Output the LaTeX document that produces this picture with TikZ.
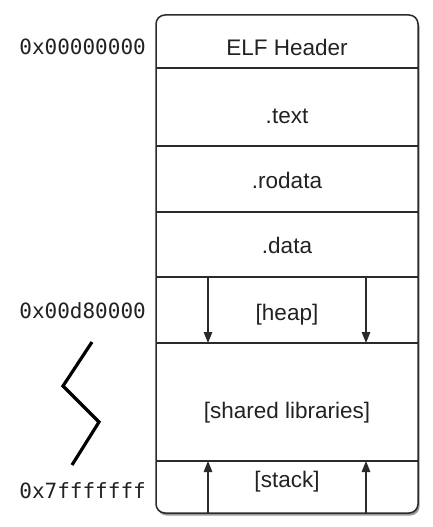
\documentclass[tikz,border=0pt]{standalone}
\usepackage{fontspec}
\setmainfont{Liberation Sans}
\newfontfamily\hexfont{DejaVu Sans Mono}
\usetikzlibrary{arrows.meta,shadows}
\definecolor{txt}{HTML}{222222}
\definecolor{edge}{HTML}{2a2a2a}
\tikzset{
  seg/.style={anchor=base, text=txt, font=\fontsize{22.5}{26}\selectfont, inner sep=0pt},
  addr/.style={anchor=base east, text=txt, font=\hexfont\fontsize{21}{24}\selectfont, inner sep=0pt},
  divider/.style={draw=edge, line width=1.4pt},
  growarrow/.style={draw=edge, line width=1.4pt, -{Triangle[length=11pt,width=8.5pt]}},
  memframe/.style={draw=edge, line width=1.5pt, rounded corners=9pt, fill=white,
    drop shadow={shadow xshift=1.5pt, shadow yshift=-2.5pt, opacity=0.4, fill=black}},
  squiggle/.style={draw=black, line width=3.2pt}
}
\begin{document}
\begin{tikzpicture}[x=1pt,y=-1pt]
\useasboundingbox (0,0) rectangle (432,527);
% memory frame
\path[memframe] (156,15) rectangle (418,513);
% dividers
\foreach \yy/\nm in {68/a,146/b,212/c,277/d,343/e,461/f}{
  \coordinate (L\nm) at (156,\yy);
  \coordinate (R\nm) at (418,\yy);
  \draw[divider] (L\nm) -- (R\nm);
}
% segment labels
\node[seg] (elf)    at (287,56)  {ELF Header};
\node[seg] (text)   at (287,123) {.text};
\node[seg] (rodata) at (287,188) {.rodata};
\node[seg] (data)   at (287,253) {.data};
\node[seg] (heap)   at (287,320) {[heap]};
\node[seg] (shlib)  at (287,418) {[shared libraries]};
\node[seg] (stack)  at (287,487) {[stack]};
% address labels
\node[addr] (a0) at (146,55)  {0x00000000};
\node[addr] (a1) at (146,318) {0x00d80000};
\node[addr] (a2) at (146,498) {0x7fffffff};
% heap growth arrows
\coordinate (h1s) at (208,277); \coordinate (h1e) at (208,343);
\coordinate (h2s) at (366,277); \coordinate (h2e) at (366,343);
\draw[growarrow] (h1s) -- (h1e);
\draw[growarrow] (h2s) -- (h2e);
% stack growth arrows
\coordinate (s1s) at (208,513); \coordinate (s1e) at (208,461);
\coordinate (s2s) at (366,513); \coordinate (s2e) at (366,461);
\draw[growarrow] (s1s) -- (s1e);
\draw[growarrow] (s2s) -- (s2e);
% break mark
\coordinate (z1) at (92,342);
\coordinate (z2) at (63,386);
\coordinate (z3) at (99,422);
\coordinate (z4) at (72,465);
\draw[squiggle] (z1) -- (z2) -- (z3) -- (z4);
\end{tikzpicture}
\end{document}
